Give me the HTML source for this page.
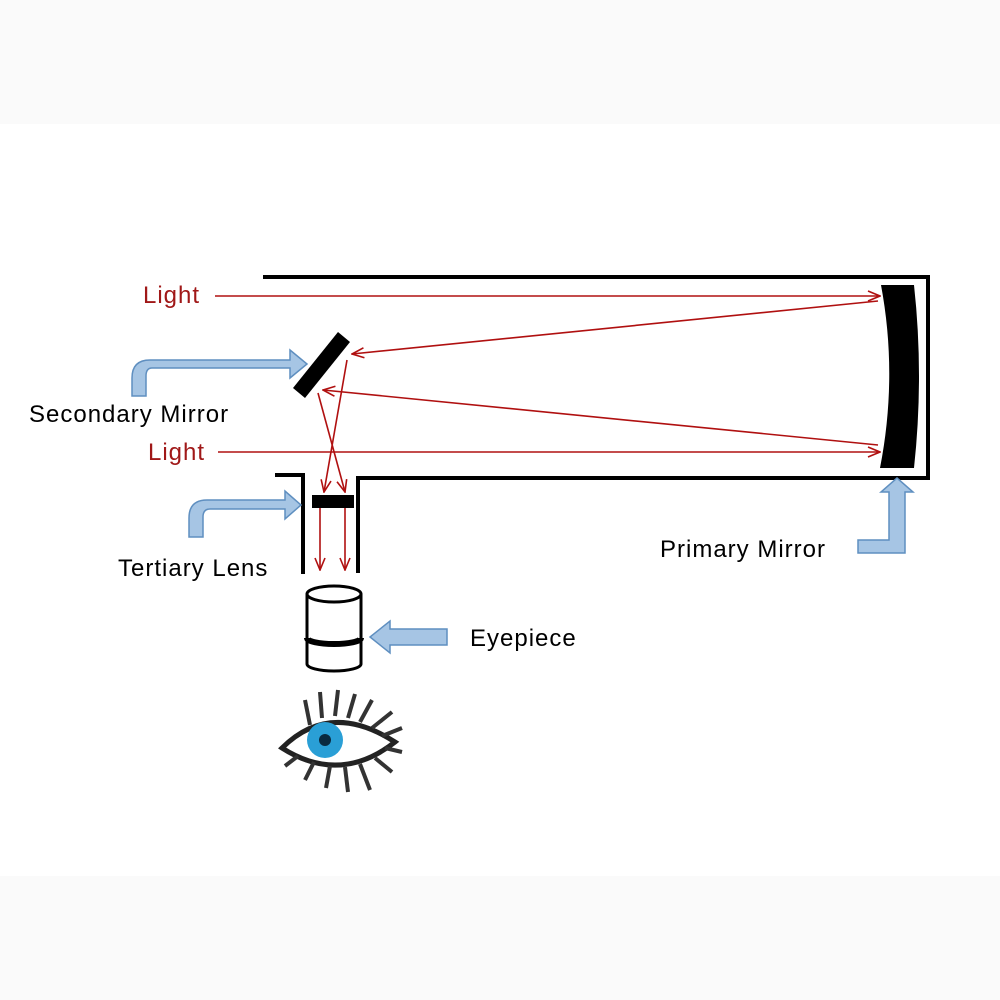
<!DOCTYPE html>
<html><head><meta charset="utf-8"><style>
body{margin:0;background:#fafafa;}
svg{display:block}
text{font-family:"Liberation Sans",sans-serif;font-size:24px;letter-spacing:1px}
</style></head><body>
<svg width="1000" height="1000" viewBox="0 0 1000 1000">
<defs>
<marker id="a" markerWidth="14" markerHeight="12" refX="13" refY="6" orient="auto" markerUnits="userSpaceOnUse">
<path d="M1,1 L13,6 L1,11" fill="none" stroke="#b01010" stroke-width="1.6"/></marker>
</defs>
<rect x="0" y="124" width="1000" height="752" fill="#fff"/>
<g stroke="#000" stroke-width="4" fill="none">
<path d="M263,277 H928 V478 H358 V573"/>
<path d="M275,475 H303 V574"/>
</g>
<path d="M881,285 L914,285 Q924,376 914,468 L880,468 Q898,376 881,285Z" fill="#000"/>
<path d="M293,388 L338,332 L350,342 L305,398Z" fill="#000"/>
<rect x="312" y="495" width="42" height="13" fill="#000"/>
<g stroke="#b01010" stroke-width="1.6" fill="none" marker-end="url(#a)">
<line x1="215" y1="296" x2="880" y2="296"/>
<line x1="878" y1="301" x2="352" y2="354"/>
<line x1="218" y1="452" x2="880" y2="452"/>
<line x1="878" y1="445" x2="323" y2="390"/>
<line x1="347" y1="360" x2="324" y2="492"/>
<line x1="318" y1="393" x2="345" y2="492"/>
<line x1="320" y1="508" x2="320" y2="570"/>
<line x1="345" y1="508" x2="345" y2="570"/>
</g>
<g fill="#a6c5e4" stroke="#5f8fc0" stroke-width="1.5">
<path d="M132,396 V378 Q132,360 150,360 H290 V350 L307,364 L290,378 V368 H152 Q146,368 146,376 V396Z"/>
<path d="M189,537 V518 Q189,500 207,500 H285 V491 L301,505 L285,519 V509 H210 Q203,509 203,517 V537Z"/>
<path d="M858,540 H889 V492 H881 L897,478 L913,492 H905 V553 H858Z"/>
<path d="M447,629 H390 V621 L370,637 L390,653 V645 H447Z"/>
</g>
<g stroke="#000" stroke-width="3" fill="#fff">
<path d="M307,594 V664 A27,7 0 0 0 361,664 V594"/>
<ellipse cx="334" cy="594" rx="27" ry="8"/>
<path d="M307,638 A27,6 0 0 0 361,638" stroke-width="6" fill="none"/>
</g>
<g>
<path d="M282,748 Q330,700 395,742 Q340,785 282,748Z" fill="#fff" stroke="#222" stroke-width="5"/>
<g stroke="#333" stroke-width="4">
<line x1="310" y1="725" x2="305" y2="700"/><line x1="322" y1="718" x2="320" y2="692"/>
<line x1="335" y1="716" x2="338" y2="690"/><line x1="348" y1="718" x2="355" y2="694"/>
<line x1="360" y1="722" x2="372" y2="700"/><line x1="372" y1="728" x2="392" y2="712"/>
<line x1="382" y1="736" x2="402" y2="728"/><line x1="385" y1="748" x2="402" y2="752"/>
<line x1="375" y1="758" x2="392" y2="772"/><line x1="360" y1="764" x2="370" y2="790"/>
<line x1="345" y1="767" x2="348" y2="792"/><line x1="330" y1="766" x2="326" y2="788"/>
<line x1="314" y1="762" x2="305" y2="780"/><line x1="298" y1="756" x2="285" y2="766"/>
</g>
<circle cx="325" cy="740" r="18" fill="#2a9fd6"/>
<circle cx="325" cy="740" r="6" fill="#0a2a40"/>
</g>
<g fill="#a01818">
<text x="143" y="303">Light</text>
<text x="148" y="460">Light</text>
</g>
<g fill="#000">
<text x="29" y="422">Secondary Mirror</text>
<text x="118" y="576">Tertiary Lens</text>
<text x="660" y="557">Primary Mirror</text>
<text x="470" y="646">Eyepiece</text>
</g>
</svg>
</body></html>
